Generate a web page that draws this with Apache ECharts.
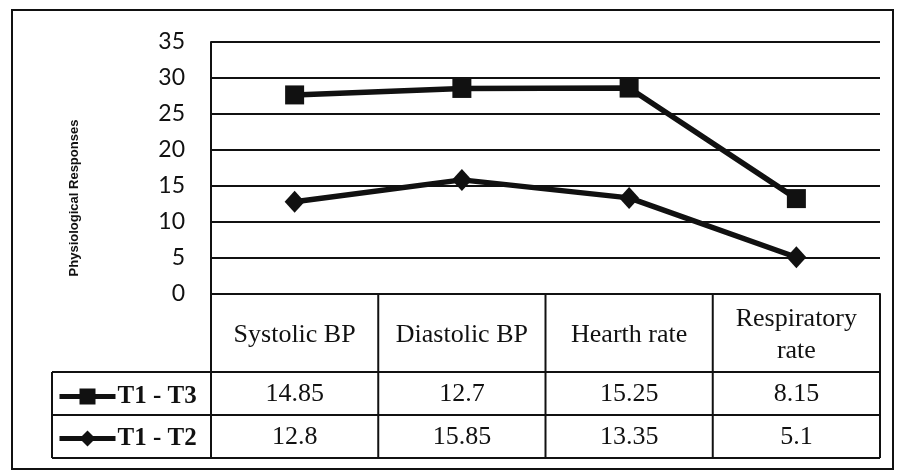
<!DOCTYPE html>
<html>
<head>
<meta charset="utf-8">
<script src="https://cdn.jsdelivr.net/npm/echarts@6/dist/echarts.min.js"></script>
<style>
	html, body { margin: 0; padding: 0; background: #fff; }
	#main { width: 898px; height: 475px; }
</style>
</head>
<body>
<div id="main"></div>
<script>
// values
var categories = ['Systolic BP', 'Diastolic BP', 'Hearth rate', 'Respiratory\nrate'];
var t1t3 = [14.85, 12.7, 15.25, 8.15];
var t1t2 = [12.8, 15.85, 13.35, 5.1];
var tableRows = [
	{ name: 'T1 - T3', values: t1t3 },
	{ name: 'T1 - T2', values: t1t2 }
];

var ink = '#111';
var serif = '"Liberation Serif", "Times New Roman", serif';

var myChart = echarts.init(document.getElementById('main'));

var option = {
	backgroundColor: '#fff',
	animation: false,
	grid: { left: 211, top: 42, right: 18, bottom: 181, containLabel: false },
	legend: {
		orient: 'vertical',
		left: 57,
		top: 384,
		padding: 0,
		itemWidth: 56,
		itemHeight: 20,
		itemGap: 17,
		data: ['T1 - T3', 'T1 - T2'],
		selectedMode: false,
		lineStyle: { width: 5 },
		textStyle: { color: ink, fontFamily: serif, fontWeight: 'bold', fontSize: 25, padding: [0, 0, 0, -3] }
	},
	xAxis: {
		type: 'category',
		data: categories,
		boundaryGap: true,
		axisLine: { show: true, lineStyle: { color: ink, width: 2 } },
		axisTick: { show: false },
		axisLabel: { show: false },
		splitLine: { show: false }
	},
	yAxis: {
		type: 'value',
		min: 0,
		max: 35,
		interval: 5,
		name: 'Physiological Responses',
		nameLocation: 'middle',
		nameRotate: 90,
		nameGap: 130,
		nameTextStyle: {
			color: ink,
			fontFamily: '"Liberation Sans", Arial, sans-serif',
			fontWeight: 'bold',
			fontSize: 13,
			padding: [0, 60, 0, 0]
		},
		axisLine: { show: true, lineStyle: { color: ink, width: 2 } },
		axisTick: { show: false },
		axisLabel: { color: ink, fontFamily: 'Lato, sans-serif', fontSize: 23, margin: 26 },
		splitLine: { show: true, lineStyle: { color: ink, width: 2 } }
	},
	series: [
		{
			name: 'T1 - T2',
			type: 'line',
			stack: 'total',
			data: t1t2,
			symbol: 'diamond',
			symbolSize: [20, 22],
			lineStyle: { color: ink, width: 5.5 },
			itemStyle: { color: ink },
			z: 3
		},
		{
			name: 'T1 - T3',
			type: 'line',
			stack: 'total',
			data: t1t3,
			symbol: 'rect',
			symbolSize: 19,
			lineStyle: { color: ink, width: 5.5 },
			itemStyle: { color: ink },
			z: 3
		}
	]
};

myChart.setOption(option);

// data table under the plot, lined up with the category bands
var buildTable = () => {
	var centers = categories.map((c, i) => myChart.convertToPixel({ xAxisIndex: 0 }, i));
	var half = (centers[1] - centers[0]) / 2;
	var zeroY = myChart.convertToPixel({ yAxisIndex: 0 }, 0);
	var headerBottom = 372;
	var rowHeight = 43;
	var tableBottom = headerBottom + rowHeight * tableRows.length;
	var legendLeft = 52;
	var left = centers[0] - half;
	var right = centers[centers.length - 1] + half;
	var els = [];
	var line = (x1, y1, x2, y2) => ({
		type: 'line',
		shape: { x1: x1, y1: y1, x2: x2, y2: y2 },
		style: { stroke: ink, lineWidth: 2 }
	});

	// outer frame
	els.push({ type: 'rect', shape: { x: 12, y: 10, width: 881, height: 459 }, style: { fill: null, stroke: ink, lineWidth: 2 } });

	// column separators
	els.push(line(left, zeroY, left, tableBottom));
	centers.forEach((c) => {
		els.push(line(c + half, zeroY, c + half, tableBottom));
	});
	// row separators
	for (var r = 0; r <= tableRows.length; r++) {
		var y = headerBottom + r * rowHeight;
		els.push(line(legendLeft, y, right, y));
	}
	els.push(line(legendLeft, headerBottom, legendLeft, tableBottom));

	// header cells
	categories.forEach((c, i) => {
		els.push({
			type: 'text',
			x: centers[i],
			y: (zeroY + headerBottom) / 2 + 2,
			style: { text: c, fill: ink, font: '26px ' + serif, align: 'center', verticalAlign: 'middle', lineHeight: 32 }
		});
	});

	// value cells
	tableRows.forEach((row, r) => {
		row.values.forEach((v, i) => {
			els.push({
				type: 'text',
				x: centers[i],
				y: headerBottom + r * rowHeight + rowHeight / 2 + 1,
				style: { text: String(v), fill: ink, font: '26px ' + serif, align: 'center', verticalAlign: 'middle' }
			});
		});
	});

	myChart.setOption({ graphic: els });
};

buildTable();
</script>
</body>
</html>
